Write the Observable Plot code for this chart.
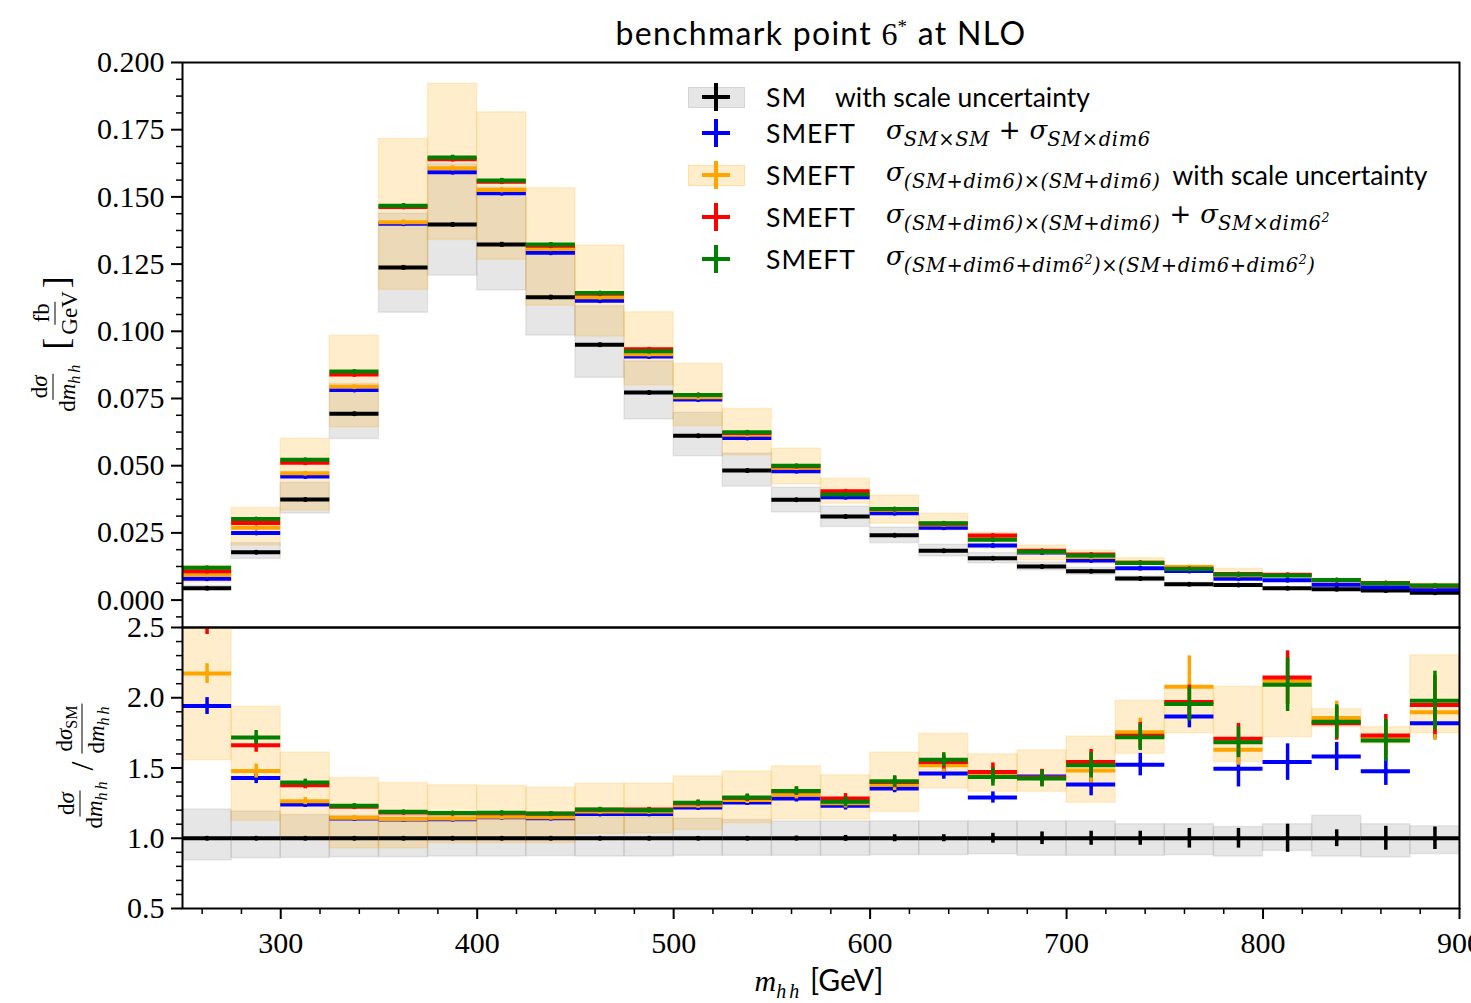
<!DOCTYPE html>
<html>
<head>
<meta charset="utf-8">
<script src="https://cdn.jsdelivr.net/npm/d3@7"></script>
<script src="https://cdn.jsdelivr.net/npm/@observablehq/plot@0.6"></script>
<style>
  html,body{margin:0;padding:0;background:#fff;}
  #wrap{position:relative;width:1471px;height:1003px;overflow:hidden;background:#fff;color:#000;}
  .abs{position:absolute;}
  #topPanel,#botPanel{position:absolute;left:0;}
  #topPanel{top:0;} #botPanel{top:627px;}
  #title{left:821px;top:33px;transform:translate(-50%,-50%);font-family:Lato,sans-serif;font-size:32px;letter-spacing:1.3px;white-space:nowrap;}
  .serif{font-family:"Liberation Serif",serif;}
  .row{position:absolute;left:766px;height:40px;display:flex;align-items:center;white-space:nowrap;font-family:Lato,sans-serif;font-size:26.5px;}
  .lab{display:inline-block;letter-spacing:1px;}
  .m{font-family:"DejaVu Serif",serif;font-style:italic;font-size:26px;}
  .m sub{font-size:19.5px;vertical-align:-7px;letter-spacing:0.6px;}
  .m sub sup{font-size:12.5px;vertical-align:8px;}
  .m .op{font-style:normal;font-family:"DejaVu Sans",sans-serif;font-size:26px;margin:0 9px;}
  .plus{position:absolute;width:28px;height:28px;}
  .plus:before{content:"";position:absolute;left:0;top:12px;width:28px;height:4px;background:currentColor;}
  .plus:after{content:"";position:absolute;left:12px;top:0;width:4px;height:28px;background:currentColor;}
  .patch{position:absolute;width:57px;height:21px;box-sizing:border-box;}
  .frac{display:inline-flex;flex-direction:column;align-items:center;vertical-align:middle;line-height:1;}
  .frac > span:first-child{border-bottom:1.5px solid #000;padding:0 2px 2px;}
  .frac > span:last-child{padding-top:2px;}
  .ylab{position:absolute;transform:translate(-50%,-50%) rotate(-90deg);white-space:nowrap;display:flex;align-items:center;font-family:"Liberation Serif",serif;font-size:23px;}
  .ylab sub{font-size:16px;vertical-align:-5px;letter-spacing:3px;}
</style>
</head>
<body>
<div id="wrap">
  <div id="topPanel"></div>
  <div id="botPanel"></div>
  <div id="title" class="abs">benchmark point <span class="serif" style="letter-spacing:0;">6</span><sup style="font-size:19px;font-family:'Liberation Serif',serif;">*</sup> at NLO</div>

  <!-- legend -->
  <div class="patch" style="left:688px;top:87px;background:rgba(128,128,128,0.2);border:1px solid rgba(128,128,128,0.15);"></div>
  <div class="plus" style="left:702px;top:83px;color:#000;"></div>
  <div class="row" style="top:77px;"><span class="lab" style="width:69px;">SM</span><span>with scale uncertainty</span></div>

  <div class="plus" style="left:702px;top:119px;color:blue;"></div>
  <div class="row" style="top:113px;"><span class="lab" style="width:120px;">SMEFT</span><span class="m">σ<sub>SM×SM</sub><span class="op">+</span>σ<sub>SM×dim6</sub></span></div>

  <div class="patch" style="left:688px;top:165px;background:rgba(255,165,0,0.2);border:1px solid rgba(255,165,0,0.2);"></div>
  <div class="plus" style="left:702px;top:161px;color:orange;"></div>
  <div class="row" style="top:155px;"><span class="lab" style="width:120px;">SMEFT</span><span class="m">σ<sub>(SM+dim6)×(SM+dim6)</sub></span><span style="margin-left:12px;">with scale uncertainty</span></div>

  <div class="plus" style="left:702px;top:203px;color:red;"></div>
  <div class="row" style="top:197px;"><span class="lab" style="width:120px;">SMEFT</span><span class="m">σ<sub>(SM+dim6)×(SM+dim6)</sub><span class="op">+</span>σ<sub>SM×dim6<sup>2</sup></sub></span></div>

  <div class="plus" style="left:702px;top:245px;color:green;"></div>
  <div class="row" style="top:239px;"><span class="lab" style="width:120px;">SMEFT</span><span class="m">σ<sub>(SM+dim6+dim6<sup>2</sup>)×(SM+dim6+dim6<sup>2</sup>)</sub></span></div>

  <!-- y labels -->
  <div class="ylab" style="left:55px;top:344px;">
    <span class="frac"><span>d<i>σ</i></span><span>d<i>m</i><sub><i>hh</i></sub></span></span>
    <span style="font-size:36px;margin:0 3px 0 12px;">[</span>
    <span class="frac"><span>fb</span><span>GeV</span></span>
    <span style="font-size:36px;margin-left:3px;">]</span>
  </div>
  <div class="ylab" style="left:82px;top:766px;">
    <span class="frac"><span>d<i>σ</i></span><span>d<i>m</i><sub><i>hh</i></sub></span></span>
    <span style="font-size:32px;margin:0 8px;">/</span>
    <span class="frac"><span>d<i>σ</i><sub style="letter-spacing:0;">SM</sub></span><span>d<i>m</i><sub><i>hh</i></sub></span></span>
  </div>
  <!-- x label -->
  <div class="abs" style="left:819px;top:982px;transform:translate(-50%,-50%);white-space:nowrap;font-size:30px;">
    <span class="serif" style="font-style:italic;">m<sub style="font-size:20px;letter-spacing:3px;">hh</sub></span><span style="font-family:Lato,sans-serif;"> [GeV]</span>
  </div>
</div>

<script>
// ---------- data ----------
const binLo  = [250,275,300,325,350,375,400,425,450,475,500,525,550,575,600,625,650,675,700,725,750,775,800,825,850,875];
const binHi  = [275,300,325,350,375,400,425,450,475,500,525,550,575,600,625,650,675,700,725,750,775,800,825,850,875,900];
const binMid = [262.5,287.5,312.5,337.5,362.5,387.5,412.5,437.5,462.5,487.5,512.5,537.5,562.5,587.5,612.5,637.5,662.5,687.5,712.5,737.5,762.5,787.5,812.5,837.5,862.5,887.5];

// top panel: dsigma/dm_hh [fb/GeV]
const smTop     = [0.0044,0.0178,0.0374,0.0693,0.1237,0.1397,0.1323,0.1127,0.0950,0.0772,0.0611,0.0482,0.0373,0.0311,0.0241,0.0184,0.0156,0.0125,0.0107,0.0080,0.0059,0.0056,0.0044,0.0040,0.0036,0.0027];
const blueTop   = [0.0079,0.0250,0.0460,0.0782,0.1400,0.1592,0.1514,0.1292,0.1114,0.0906,0.0746,0.0603,0.0479,0.0383,0.0323,0.0269,0.0203,0.0177,0.0147,0.0118,0.0108,0.0079,0.0074,0.0057,0.0048,0.0039];
const orangeTop = [0.0094,0.0269,0.0472,0.0794,0.1406,0.1607,0.1526,0.1307,0.1127,0.0915,0.0755,0.0615,0.0492,0.0396,0.0335,0.0281,0.0227,0.0180,0.0160,0.0140,0.0123,0.0092,0.0093,0.0075,0.0063,0.0051];
const redTop    = [0.0107,0.0287,0.0511,0.0839,0.1462,0.1640,0.1556,0.1318,0.1140,0.0933,0.0763,0.0622,0.0498,0.0405,0.0338,0.0284,0.0240,0.0184,0.0170,0.0139,0.0117,0.0097,0.0094,0.0074,0.0064,0.0053];
const greenTop  = [0.0120,0.0302,0.0522,0.0850,0.1467,0.1647,0.1561,0.1323,0.1142,0.0926,0.0763,0.0624,0.0500,0.0393,0.0339,0.0286,0.0224,0.0180,0.0166,0.0138,0.0116,0.0095,0.0091,0.0075,0.0063,0.0054];
const topErr    = [0.0003,0.0004,0.0005,0.0006,0.0008,0.0008,0.0008,0.0007,0.0006,0.0005,0.0004,0.0004,0.0003,0.0003,0.0003,0.0003,0.0003,0.0003,0.0003,0.0003,0.0003,0.0003,0.0003,0.0002,0.0002,0.0002];
const smTopLo   = [0.0037,0.0153,0.0322,0.0599,0.1069,0.1207,0.1152,0.0984,0.0827,0.0672,0.0535,0.0422,0.0326,0.0272,0.0212,0.0162,0.0137,0.0110,0.0094,0.0070,0.0052,0.0049,0.0040,0.0035,0.0031,0.0024];
const smTopHi   = [0.0053,0.0212,0.0436,0.0804,0.1438,0.1621,0.1535,0.1307,0.1093,0.0888,0.0697,0.0545,0.0418,0.0348,0.0270,0.0206,0.0175,0.0140,0.0120,0.0088,0.0065,0.0061,0.0048,0.0046,0.0040,0.0029];
const orTopLo   = [0.0065,0.0203,0.0333,0.0643,0.1154,0.1340,0.1266,0.1095,0.0980,0.0799,0.0647,0.0538,0.0430,0.0358,0.0284,0.0259,0.0191,0.0147,0.0135,0.0128,0.0104,0.0088,0.0076,0.0071,0.0057,0.0047];
const orTopHi   = [0.0128,0.0343,0.0600,0.0984,0.1716,0.1921,0.1815,0.1532,0.1319,0.1071,0.0879,0.0711,0.0563,0.0451,0.0389,0.0321,0.0251,0.0203,0.0184,0.0156,0.0128,0.0116,0.0095,0.0077,0.0064,0.0062];

// bottom panel: ratio to SM
const smRatio     = [1,1,1,1,1,1,1,1,1,1,1,1,1,1,1,1,1,1,1,1,1,1,1,1,1,1];
const smRatioErr  = [0.01,0.01,0.005,0.005,0.005,0.005,0.005,0.005,0.005,0.01,0.01,0.012,0.015,0.02,0.025,0.025,0.035,0.045,0.05,0.05,0.07,0.07,0.1,0.06,0.085,0.08];
const smRatioLo   = [0.842,0.858,0.86,0.865,0.865,0.87,0.87,0.873,0.87,0.87,0.875,0.875,0.875,0.875,0.88,0.88,0.886,0.875,0.875,0.875,0.88,0.87,0.91,0.87,0.863,0.887];
const smRatioHi   = [1.205,1.19,1.165,1.16,1.16,1.16,1.16,1.16,1.15,1.15,1.14,1.13,1.12,1.12,1.12,1.12,1.12,1.12,1.12,1.10,1.10,1.08,1.10,1.16,1.10,1.085];
const blueRatio   = [1.941,1.429,1.241,1.140,1.133,1.135,1.150,1.142,1.172,1.172,1.219,1.255,1.283,1.231,1.354,1.460,1.290,1.440,1.382,1.524,1.866,1.495,1.542,1.582,1.476,1.818];
const orangeRatio = [2.172,1.478,1.264,1.146,1.137,1.140,1.153,1.150,1.190,1.190,1.235,1.272,1.310,1.250,1.380,1.520,1.450,1.430,1.483,1.754,2.078,1.630,2.120,1.856,1.715,1.896];
const redRatio    = [2.52,1.662,1.377,1.225,1.183,1.178,1.178,1.174,1.203,1.205,1.250,1.287,1.335,1.283,1.400,1.543,1.471,1.430,1.542,1.730,1.970,1.708,2.144,1.818,1.731,1.948];
const greenRatio  = [2.62,1.717,1.396,1.231,1.188,1.180,1.181,1.176,1.205,1.200,1.252,1.290,1.337,1.259,1.405,1.559,1.436,1.425,1.519,1.719,1.955,1.684,2.092,1.830,1.696,1.979];
const blueRatioErr   = [0.06,0.04,0.02,0.012,0.01,0.01,0.01,0.01,0.012,0.012,0.015,0.02,0.025,0.03,0.03,0.04,0.04,0.05,0.08,0.08,0.08,0.13,0.13,0.10,0.10,0.11];
const orangeRatioErr = [0.07,0.05,0.025,0.015,0.01,0.01,0.012,0.012,0.015,0.015,0.02,0.025,0.03,0.035,0.04,0.05,0.06,0.06,0.09,0.10,0.22,0.11,0.17,0.12,0.13,0.20];
const redRatioErr    = [0.07,0.05,0.025,0.015,0.01,0.01,0.012,0.012,0.015,0.015,0.02,0.025,0.03,0.035,0.04,0.05,0.065,0.06,0.09,0.095,0.12,0.11,0.19,0.12,0.15,0.21];
const greenRatioErr  = [0.06,0.05,0.025,0.015,0.01,0.01,0.012,0.012,0.015,0.015,0.02,0.025,0.03,0.035,0.04,0.05,0.065,0.06,0.09,0.095,0.12,0.11,0.19,0.12,0.15,0.21];
const orRatioLo   = [1.555,1.125,0.988,0.929,0.929,0.965,0.965,0.965,1.03,1.035,1.059,1.106,1.134,1.134,1.188,1.354,1.330,1.330,1.252,1.601,1.747,1.542,1.719,1.79,1.672,1.747];
const orRatioHi   = [2.65,1.936,1.609,1.429,1.393,1.377,1.372,1.361,1.389,1.389,1.441,1.476,1.512,1.448,1.609,1.743,1.597,1.625,1.724,1.979,2.078,2.078,2.078,1.92,1.79,2.302];

// ticks
const yTopMajor = [0,0.025,0.05,0.075,0.1,0.125,0.15,0.175,0.2];
const yBotMajor = [0.5,1.0,1.5,2.0,2.5];
const xMajor = [300,400,500,600,700,800,900];
const xMinor = [260,280,320,340,360,380,420,440,460,480,520,540,560,580,620,640,660,680,720,740,760,780,820,840,860,880];
const yTopMinor = d3.range(-1, 33).map(k => k * 0.00625).filter(v => Math.abs(v / 0.025 - Math.round(v / 0.025)) > 1e-6);
const yBotMinor = d3.range(5, 26).map(k => k / 10).filter(v => Math.abs(v * 2 - Math.round(v * 2)) > 1e-6);

// ---------- build ----------
const rows = binLo.map((lo, i) => ({lo, hi: binHi[i], c: binMid[i], i}));

function hist(vals, errs, color, clip) {
  return [
    Plot.ruleX(rows, {x: "c", y1: d => vals[d.i] - errs[d.i], y2: d => vals[d.i] + errs[d.i], stroke: color, strokeWidth: 3.5, clip}),
    Plot.ruleY(rows, {x1: "lo", x2: "hi", y: d => vals[d.i], stroke: color, strokeWidth: 4, clip}),
    Plot.dot(rows, {x: "c", y: d => vals[d.i], r: 2.5, fill: color, clip})
  ];
}
function band(lo, hi, color, op, clip) {
  return Plot.rect(rows, {x1: "lo", x2: "hi", y1: d => lo[d.i], y2: d => hi[d.i], fill: color, fillOpacity: op, stroke: color, strokeOpacity: 0.15, strokeWidth: 1.5, clip});
}
const commonStyle = {background: "none", overflow: "visible", fontFamily: "'Liberation Serif', serif", fontSize: "30px", color: "black"};

const topPlot = Plot.plot({
  width: 1471, height: 627,
  marginTop: 62, marginBottom: 0, marginLeft: 182, marginRight: 12,
  x: {domain: [250, 900], axis: null},
  y: {domain: [-0.0102, 0.2]},
  style: commonStyle,
  marks: [
    band(smTopLo, smTopHi, "#808080", 0.2, false),
    band(orTopLo, orTopHi, "orange", 0.2, false),
    ...hist(smTop, topErr, "black", false),
    ...hist(blueTop, topErr, "blue", false),
    ...hist(orangeTop, topErr, "orange", false),
    ...hist(redTop, topErr, "red", false),
    ...hist(greenTop, topErr, "green", false),
    Plot.axisY({ticks: yTopMajor, tickSize: 11, tickPadding: 7, tickFormat: d3.format(".3f"), label: null, strokeWidth: 2}),
    Plot.axisY({ticks: yTopMinor, tickSize: 6, tickFormat: () => "", label: null, strokeWidth: 1.5}),
    Plot.frame({stroke: "black", strokeWidth: 2})
  ]
});
document.getElementById("topPanel").append(topPlot);

const botPlot = Plot.plot({
  width: 1471, height: 376,
  marginTop: 0, marginBottom: 95, marginLeft: 182, marginRight: 12,
  x: {domain: [250, 900]},
  y: {domain: [0.5, 2.5]},
  style: commonStyle,
  marks: [
    band(smRatioLo, smRatioHi, "#808080", 0.2, true),
    band(orRatioLo, orRatioHi, "orange", 0.2, true),
    ...hist(smRatio, smRatioErr, "black", true),
    ...hist(blueRatio, blueRatioErr, "blue", true),
    ...hist(orangeRatio, orangeRatioErr, "orange", true),
    ...hist(redRatio, redRatioErr, "red", true),
    ...hist(greenRatio, greenRatioErr, "green", true),
    Plot.axisX({ticks: xMajor, tickSize: 11, tickPadding: 12, tickFormat: d => String(d), label: null, strokeWidth: 2}),
    Plot.axisX({ticks: xMinor, tickSize: 6, tickFormat: () => "", label: null, strokeWidth: 1.5}),
    Plot.axisY({ticks: yBotMajor, tickSize: 11, tickPadding: 7, tickFormat: d3.format(".1f"), label: null, strokeWidth: 2}),
    Plot.axisY({ticks: yBotMinor, tickSize: 6, tickFormat: () => "", label: null, strokeWidth: 1.5}),
    Plot.frame({stroke: "black", strokeWidth: 2})
  ]
});
document.getElementById("botPanel").append(botPlot);
</script>
</body>
</html>
